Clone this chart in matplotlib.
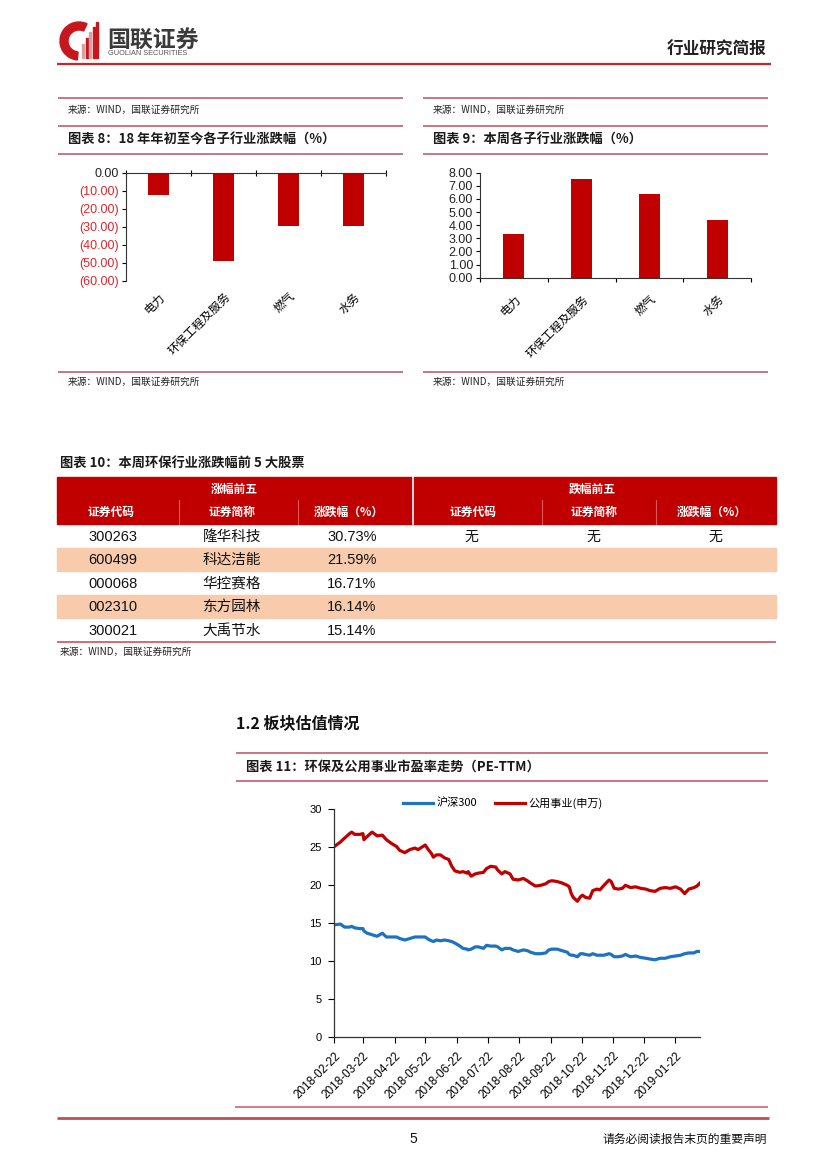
import matplotlib
matplotlib.use('Agg')
import matplotlib.pyplot as plt
from matplotlib.patches import Rectangle, Wedge
import numpy as np
import pandas as pd

plt.rcParams['font.family'] = ['Noto Sans CJK SC', 'DejaVu Sans']
plt.rcParams['axes.unicode_minus'] = False

W, H = 827, 1169
CJK = ['Noto Sans CJK SC', 'DejaVu Sans']
LAT = ['Liberation Sans', 'DejaVu Sans']

# ---------------- data ----------------
sub_industries = ['电力', '环保工程及服务', '燃气', '水务']
ytd_change = [-12.4, -48.8, -29.7, -29.4]      # 图表8
week_change = [3.31, 7.54, 6.35, 4.40]         # 图表9

top_codes = ['300263', '600499', '000068', '002310', '300021']
top_names = ['隆华科技', '科达洁能', '华控赛格', '东方园林', '大禹节水']
top_change = [30.73, 21.59, 16.71, 16.14, 15.14]
drop_row = ['无', '无', '无']

pe_dates = ['2018-02-22', '2018-02-28', '2018-03-04', '2018-03-09', '2018-03-11',
            '2018-03-14', '2018-03-19', '2018-03-22', '2018-03-23', '2018-03-26',
            '2018-03-31', '2018-04-02', '2018-04-05', '2018-04-10', '2018-04-14',
            '2018-04-19', '2018-04-24', '2018-04-27', '2018-05-02', '2018-05-07',
            '2018-05-12', '2018-05-15', '2018-05-22', '2018-05-25', '2018-05-28',
            '2018-05-30', '2018-06-02', '2018-06-06', '2018-06-10', '2018-06-14',
            '2018-06-17', '2018-06-20', '2018-06-25', '2018-06-28', '2018-07-02',
            '2018-07-03', '2018-07-06', '2018-07-10', '2018-07-13', '2018-07-18',
            '2018-07-21', '2018-07-25', '2018-07-30', '2018-08-01', '2018-08-05',
            '2018-08-08', '2018-08-13', '2018-08-16', '2018-08-21', '2018-08-26',
            '2018-08-30', '2018-09-02', '2018-09-07', '2018-09-12', '2018-09-17',
            '2018-09-20', '2018-09-23', '2018-09-28', '2018-10-03', '2018-10-08',
            '2018-10-10', '2018-10-12', '2018-10-14', '2018-10-18', '2018-10-21',
            '2018-10-23', '2018-10-26', '2018-10-30', '2018-11-02', '2018-11-06',
            '2018-11-09', '2018-11-13', '2018-11-18', '2018-11-20', '2018-11-23',
            '2018-11-27', '2018-12-01', '2018-12-04', '2018-12-09', '2018-12-14',
            '2018-12-19', '2018-12-24', '2018-12-28', '2019-01-02', '2019-01-07',
            '2019-01-12', '2019-01-17', '2019-01-22', '2019-01-27', '2019-01-31',
            '2019-02-04', '2019-02-09', '2019-02-12', '2019-02-15']
utility_pe = [25.1, 25.7, 26.2, 26.8, 27.0, 26.7, 26.7, 26.8, 26.0, 26.4,
              27.0, 26.8, 26.5, 26.6, 26.0, 25.5, 25.1, 24.6, 24.3, 24.7,
              24.9, 24.7, 25.3, 24.7, 24.2, 23.7, 24.0, 24.0, 23.6, 23.4,
              22.5, 21.9, 21.7, 21.8, 21.6, 21.8, 21.2, 21.5, 21.6, 21.7,
              22.2, 22.5, 22.4, 22.0, 21.5, 21.8, 21.5, 20.8, 20.7, 20.9,
              20.6, 20.3, 19.9, 20.0, 20.2, 20.5, 20.6, 20.5, 20.3, 20.0,
              19.8, 18.9, 18.4, 17.9, 18.5, 18.7, 18.4, 18.3, 19.3, 19.5,
              19.4, 20.0, 20.7, 20.5, 19.6, 19.5, 19.6, 20.0, 19.7, 19.8,
              19.6, 19.5, 19.3, 19.2, 19.6, 19.7, 19.6, 19.8, 19.5, 18.9,
              19.5, 19.7, 19.9, 20.3]
hs300_pe = [14.8, 14.9, 14.5, 14.5, 14.6, 14.4, 14.3, 14.3, 14.0, 13.7,
            13.5, 13.4, 13.3, 13.7, 13.2, 13.2, 13.2, 13.0, 12.8, 13.0,
            13.2, 13.2, 13.2, 12.9, 12.7, 12.6, 12.8, 12.7, 12.8, 12.7,
            12.6, 12.4, 12.0, 11.7, 11.6, 11.5, 11.6, 11.9, 11.9, 11.7,
            12.1, 12.0, 12.0, 11.9, 11.5, 11.7, 11.7, 11.5, 11.3, 11.5,
            11.4, 11.2, 11.0, 11.0, 11.1, 11.5, 11.6, 11.6, 11.4, 11.2,
            10.9, 10.8, 10.8, 10.6, 11.0, 11.0, 10.9, 10.8, 11.0, 10.8,
            10.8, 10.8, 11.0, 10.9, 10.6, 10.6, 10.7, 10.9, 10.6, 10.7,
            10.5, 10.4, 10.3, 10.2, 10.4, 10.4, 10.6, 10.7, 10.8, 11.0,
            11.1, 11.1, 11.3, 11.3]
pe_ticks = ['2018-02-22', '2018-03-22', '2018-04-22', '2018-05-22', '2018-06-22',
            '2018-07-22', '2018-08-22', '2018-09-22', '2018-10-22', '2018-11-22',
            '2018-12-22', '2019-01-22']

# ---------------- colours ----------------
BAR_RED = '#C00000'
LINE_PINK = '#C66A79'
HEAD_RED = '#C00000'
PEACH = '#F8CBAD'
BLUE = '#1F72C0'

fig = plt.figure(figsize=(W / 100, H / 100), dpi=100)
bg = fig.add_axes([0, 0, 1, 1], zorder=0)
bg.set_xlim(0, W)
bg.set_ylim(H, 0)
bg.set_autoscale_on(False)
bg.axis('off')


def hline(x1, x2, y, color=LINE_PINK, lw=1.3):
    bg.plot([x1, x2], [y, y], color=color, lw=lw, solid_capstyle='butt')


def txt(x, y, s, **kw):
    kw.setdefault('family', CJK)
    bg.text(x, y, s, **kw)


def axes_px(l, t, r, b):
    ax = fig.add_axes([l / W, 1 - b / H, (r - l) / W, (b - t) / H], zorder=2)
    ax.patch.set_alpha(0)
    return ax


# ---------------- header ----------------
bg.add_patch(Wedge((79, 41), 19, 95, 295, width=8, color='#C8161D', zorder=3))
for bx, top, c in zip([82, 85.5, 89, 92.5, 96], [44, 38, 32, 27, 22],
                      ['#D9A0A0', '#C8161D', '#D9A0A0', '#C8161D', '#C8161D']):
    bg.add_patch(Rectangle((bx, top), 2.0, 58 - top, color=c, zorder=3))
txt(107, 40, '国联证券', fontsize=16.5, fontweight='bold', color='#3a3a3a', va='center')
txt(108, 53.5, 'GUOLIAN SECURITIES', fontsize=5.3, color='#555555', va='center', family=LAT)
txt(766, 50, '行业研究简报', fontsize=12, fontweight='bold', color='#222222', va='center', ha='right')
hline(57, 771, 64, color='#C0282D', lw=1.6)

# ---------------- panels 8 & 9 ----------------
for x0, x1, title in [(58, 403, '图表 8：18 年年初至今各子行业涨跌幅（%）'),
                      (423, 768, '图表 9：本周各子行业涨跌幅（%）')]:
    hline(x0, x1, 98)
    hline(x0, x1, 126)
    hline(x0, x1, 153.5)
    hline(x0, x1, 372)
    txt(x0 + 10, 110, '来源：WIND，国联证券研究所', fontsize=7, color='#222222', va='center')
    txt(x0 + 10, 382, '来源：WIND，国联证券研究所', fontsize=7, color='#222222', va='center')
    txt(x0 + 10, 140, title, fontsize=9.5, fontweight='bold', color='#1a1a1a', va='center')

xpos = np.arange(len(sub_industries))

ax1 = axes_px(126, 172.7, 386, 281)
ax1.bar(xpos, ytd_change, width=0.31, color=BAR_RED, zorder=2)
ax1.set_xlim(-0.5, 3.5)
ax1.set_ylim(-60, 0)
yt1 = np.arange(-60, 1, 10)
ax1.set_yticks(yt1)
ax1.set_yticklabels(['0.00' if v == 0 else f'({abs(v):.2f})' for v in yt1], family=LAT, fontsize=9)
for lab, v in zip(ax1.get_yticklabels(), yt1):
    lab.set_color('#E0262B' if v < 0 else '#222222')
ax1.set_xticks(xpos)
ax1.set_xticklabels(sub_industries, rotation=45, ha='right', va='top',
                    rotation_mode='anchor', fontsize=8.5, family=CJK)
ax1.set_xticks(np.arange(-0.5, 4, 1), minor=True)
ax1.tick_params(axis='x', which='major', length=0, pad=6.5)
ax1.tick_params(axis='x', which='minor', top=True, bottom=False, direction='inout', length=4, width=0.8)
ax1.tick_params(axis='y', length=3, width=0.8, direction='out', pad=2)
for s in ['right', 'bottom']:
    ax1.spines[s].set_visible(False)
for s in ['top', 'left']:
    ax1.spines[s].set_color('#333333')
    ax1.spines[s].set_linewidth(0.8)

ax2 = axes_px(480, 172.7, 751, 277.7)
ax2.bar(xpos, week_change, width=0.31, color=BAR_RED, zorder=2)
ax2.set_xlim(-0.5, 3.5)
ax2.set_ylim(0, 8)
yt2 = np.arange(0, 9, 1)
ax2.set_yticks(yt2)
ax2.set_yticklabels([f'{v:.2f}' for v in yt2], family=LAT, fontsize=9, color='#222222')
ax2.set_xticks(xpos)
ax2.set_xticklabels(sub_industries, rotation=45, ha='right', va='top',
                    rotation_mode='anchor', fontsize=8.5, family=CJK)
ax2.set_xticks(np.arange(-0.5, 4, 1), minor=True)
ax2.tick_params(axis='x', which='major', length=0, pad=11)
ax2.tick_params(axis='x', which='minor', bottom=True, direction='out', length=3, width=0.8)
ax2.tick_params(axis='y', length=3, width=0.8, direction='out', pad=2)
for s in ['right', 'top']:
    ax2.spines[s].set_visible(False)
for s in ['bottom', 'left']:
    ax2.spines[s].set_color('#333333')
    ax2.spines[s].set_linewidth(0.8)

# ---------------- table 10 ----------------
txt(60, 463, '图表 10：本周环保行业涨跌幅前 5 大股票', fontsize=9.5, fontweight='bold',
    color='#1a1a1a', va='center')
TL, TR = 57, 776
bg.add_patch(Rectangle((TL, 476.7), TR - TL, 524 - 476.7, color=HEAD_RED, zorder=1))
bg.plot([413, 413], [476.7, 524], color='white', lw=1.2)
for xs in [179, 298, 542, 656]:
    bg.plot([xs, xs], [500, 524], color='#D65A5A', lw=0.8)
txt(234, 489, '涨幅前五', fontsize=8.5, fontweight='bold', color='white', ha='center', va='center')
txt(592, 489, '跌幅前五', fontsize=8.5, fontweight='bold', color='white', ha='center', va='center')
head_x = [111, 232, 349, 473, 594, 712]
head_labels = ['证券代码', '证券简称', '涨跌幅（%）', '证券代码', '证券简称', '涨跌幅（%）']
for hx, hl in zip(head_x, head_labels):
    txt(hx, 512, hl, fontsize=8.5, fontweight='bold', color='white', ha='center', va='center')

row_top = 524
row_h = 23.55
for i, (code, name, chg) in enumerate(zip(top_codes, top_names, top_change)):
    y0 = row_top + i * row_h
    if i % 2 == 1:
        bg.add_patch(Rectangle((TL, y0), TR - TL, row_h, color=PEACH, zorder=1))
    yc = y0 + row_h / 2 + 0.8
    txt(88, yc, code, fontsize=10.5, family=LAT, color='#111111', va='center')
    txt(232, yc, name, fontsize=10.5, color='#111111', ha='center', va='center')
    txt(352, yc, f'{chg:.2f}%', fontsize=10.5, family=LAT, color='#111111', ha='center', va='center')
    if i == 0:
        for dx, dv in zip([471, 593, 715], drop_row):
            txt(dx, yc, dv, fontsize=10, color='#111111', ha='center', va='center')
hline(TL, TR, row_top + 5 * row_h, color='#D0505A', lw=1.2)
txt(60, 652, '来源：WIND，国联证券研究所', fontsize=7, color='#222222', va='center')

# ---------------- section 1.2 / chart 11 ----------------
txt(236, 723, '1.2 板块估值情况', fontsize=11.5, fontweight='bold', color='#111111', va='center')
hline(236, 768, 752.7)
hline(236, 768, 781)
txt(246, 767, '图表 11：环保及公用事业市盈率走势（PE-TTM）', fontsize=9.5, fontweight='bold',
    color='#1a1a1a', va='center')

dates = pd.to_datetime(pe_dates)
ax3 = axes_px(334.3, 809.3, 700, 1037.3)
l1, = ax3.plot(dates, hs300_pe, color=BLUE, lw=2.3, label='沪深300', solid_joinstyle='round')
l2, = ax3.plot(dates, utility_pe, color=BAR_RED, lw=2.3, label='公用事业(申万)', solid_joinstyle='round')
ax3.set_ylim(0, 30)
ax3.set_yticks(np.arange(0, 31, 5))
ax3.set_xlim(dates[0], dates[-1])
tick_dates = pd.to_datetime(pe_ticks)
ax3.set_xticks(tick_dates)
ax3.set_xticklabels(pe_ticks, rotation=45, ha='right', va='top', rotation_mode='anchor',
                    family=LAT, fontsize=8.5)
for lab in ax3.get_yticklabels():
    lab.set_family(LAT)
    lab.set_fontsize(8)
ax3.tick_params(axis='x', length=4, width=0.8, direction='out', pad=5)
ax3.tick_params(axis='y', length=4, width=0.8, direction='out', pad=5)
for s in ['right', 'top']:
    ax3.spines[s].set_visible(False)
for s in ['bottom', 'left']:
    ax3.spines[s].set_color('#333333')
    ax3.spines[s].set_linewidth(0.9)
fig.legend(handles=[l1, l2], loc='center', bbox_to_anchor=(503 / W, 1 - 803 / H), ncol=2,
           frameon=False, fontsize=8, handlelength=2.7, columnspacing=1.6, handletextpad=0.3)

# ---------------- footer ----------------
hline(235, 768, 1106.7, color='#D08090', lw=1.5)
hline(57, 769, 1118.3, color='#C0504D', lw=2.0)
txt(413, 1139, '5', fontsize=10, family=LAT, color='#111111', ha='center', va='center')
txt(767, 1139, '请务必阅读报告末页的重要声明', fontsize=8.5, color='#111111', ha='right', va='center')

fig.savefig('out.png', dpi=100)
